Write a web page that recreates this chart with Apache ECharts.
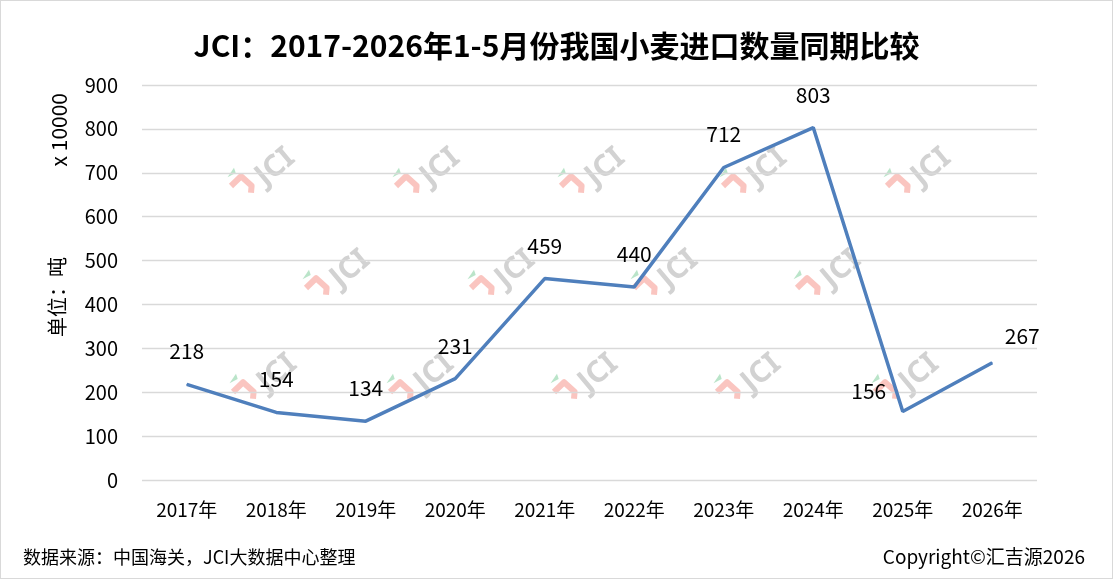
<!DOCTYPE html>
<html>
<head>
<meta charset="utf-8">
<script src="https://cdn.jsdelivr.net/npm/echarts@6/dist/echarts.min.js"></script>
<style>
html,body{margin:0;padding:0;background:#fff;}
#main{position:absolute;left:0;top:0;width:1111px;height:577px;border:1px solid #d9d9d9;}
</style>
</head>
<body>
<div id="main"></div>
<script>
var years = ['2017年','2018年','2019年','2020年','2021年','2022年','2023年','2024年','2025年','2026年'];
var imports = [218,154,134,231,459,440,712,803,156,267]; // 单位：万吨

var chart = echarts.init(document.getElementById('main'));
var font = '"Noto Sans CJK SC", "Noto Sans", sans-serif';

// 个别标签位置调整
var pts = imports.map(function(v, i){
    var p = {value: v};
    if (i === 8) p.label = {position: 'left', distance: 4, offset: [-12, -21]};
    if (i === 9) p.label = {offset: [30, 6]};
    return p;
});

// 水印位置
var wmPos = [
    [230,185],[395,185],[560,185],[722,185],[886,185],
    [305,287],[470,287],[633,287],[796,287],
    [232,391],[389,391],[553,391],[716,391],[874,391]
];
function watermark(p){
    return {
        type: 'group', x: p[0], y: p[1], rotation: 40 * Math.PI / 180, z: -1, silent: true,
        children: [
            {type: 'polyline', shape: {points: [[0,0],[14,-1],[16,13],[11,18]]},
             style: {stroke: 'rgba(245,150,140,0.55)', lineWidth: 6, fill: null, lineJoin: 'round'}},
            {type: 'polygon', shape: {points: [[3,-9],[14,-12],[12,-7]]},
             style: {fill: 'rgba(140,210,165,0.6)'}},
            {type: 'text', x: 46, y: 14,
             style: {text: 'JCI', font: 'bold 30px "Noto Sans", sans-serif', fill: '#d2d2d2',
                     align: 'center', verticalAlign: 'middle'}}
        ]
    };
}

var option = {
    title: {
        text: 'JCI：2017-2026年1-5月份我国小麦进口数量同期比较',
        left: 'center',
        top: 25,
        textStyle: {fontFamily: font, fontSize: 30, fontWeight: 'bold', color: '#000'}
    },
    grid: {left: 141, right: 75, top: 84, bottom: 98},
    xAxis: {
        type: 'category',
        data: years,
        axisLine: {show: false},
        axisTick: {show: false},
        axisLabel: {fontFamily: font, fontSize: 19, color: '#000', margin: 20}
    },
    yAxis: {
        type: 'value',
        min: 0, max: 900, interval: 100,
        axisLabel: {fontFamily: font, fontSize: 20, color: '#000', margin: 24},
        splitLine: {lineStyle: {color: '#d9d9d9', width: 1.3}}
    },
    graphic: wmPos.map(watermark).concat([
        {type: 'text', left: 48, top: 92, rotation: Math.PI/2,
         style: {text: 'x 10000', font: '21px ' + font, fill: '#000'}},
        {type: 'text', x: 56, y: 296, rotation: Math.PI/2, originX: 0, originY: 0,
         style: {text: '单位：吨', font: '20px ' + font, fill: '#000', align: 'center', verticalAlign: 'middle'}},
        {type: 'text', left: 22, bottom: 12,
         style: {text: '数据来源：中国海关，JCI大数据中心整理', font: '18px ' + font, fill: '#000'}},
        {type: 'text', right: 27, bottom: 12,
         style: {text: 'Copyright©汇吉源2026', font: '19px ' + font, fill: '#000'}}
    ]),
    series: [{
        type: 'line',
        data: pts,
        symbol: 'circle',
        symbolSize: 1,
        z: 5,
        lineStyle: {color: '#4f7fbc', width: 3.5},
        itemStyle: {color: '#4f7fbc'},
        label: {show: true, position: 'top', distance: 22, fontFamily: font, fontSize: 21, color: '#000'}
    }]
};
chart.setOption(option);
</script>
</body>
</html>
